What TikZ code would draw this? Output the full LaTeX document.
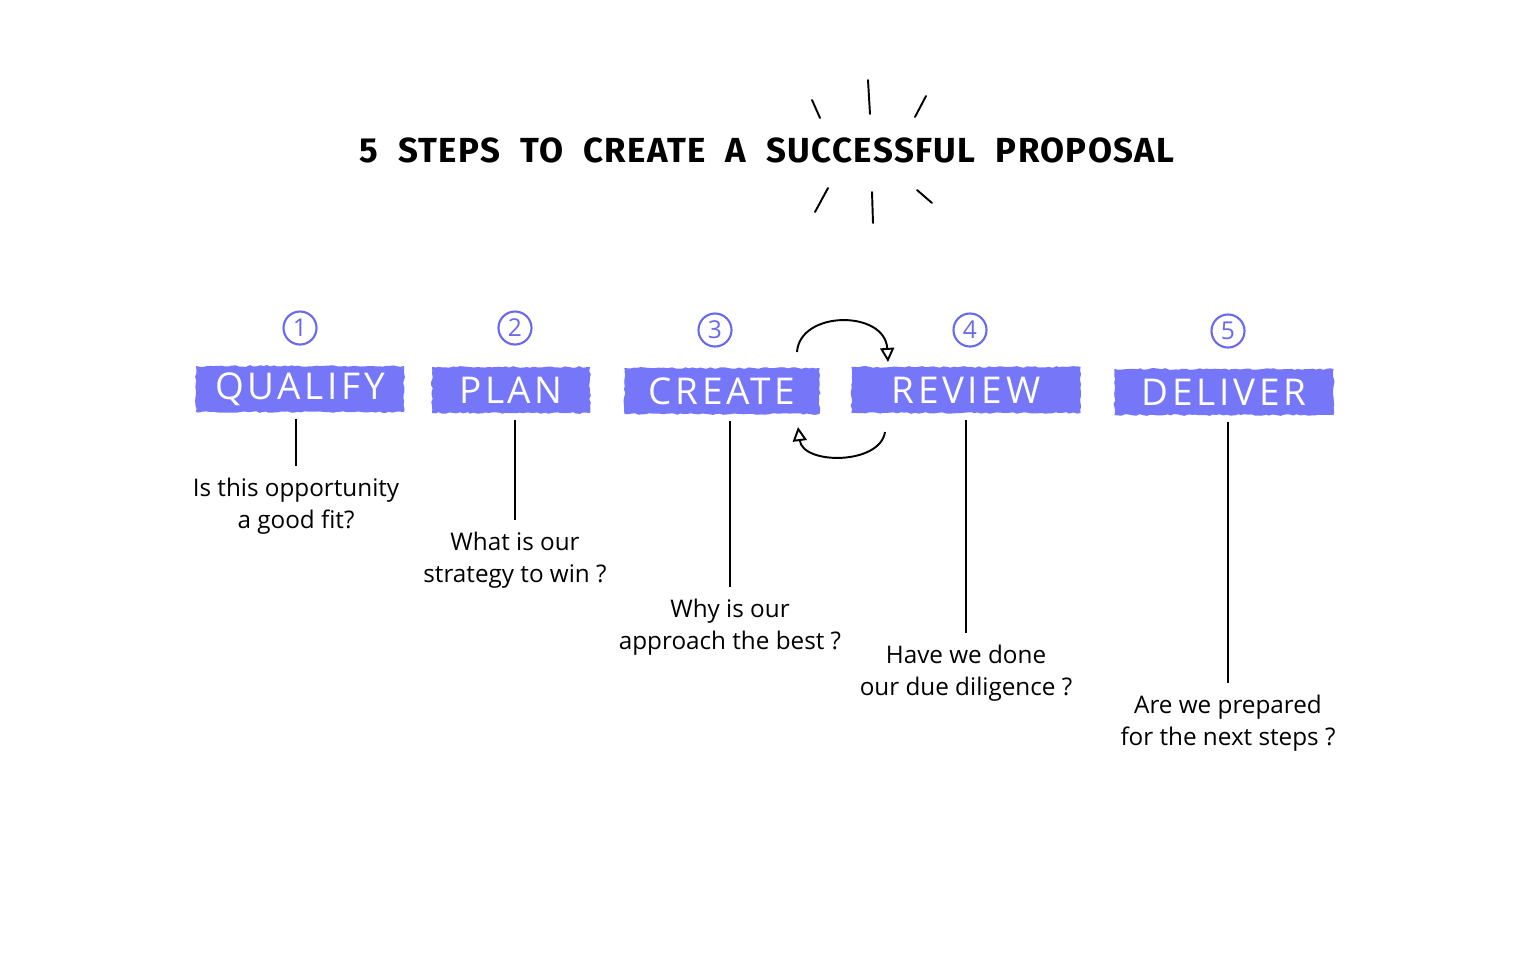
\documentclass[tikz,border=0pt]{standalone}
\usepackage{fontspec}
\setmainfont{Open Sans}
\newfontfamily\titlefont[LetterSpace=4]{Fira Sans}
\newfontfamily\bannerfont[LetterSpace=10]{Open Sans}
\newfontfamily\qfont{Open Sans}
\usetikzlibrary{arrows.meta,calc,decorations.pathmorphing}
\definecolor{bannerc}{RGB}{118,118,248}
\definecolor{numc}{RGB}{105,105,240}
\newcommand{\wgap}{\hspace{0.2cm}}
\begin{document}
\begin{tikzpicture}[x=0.01cm,y=-0.01cm,
  banner/.style={fill=bannerc, text=white, inner sep=0, minimum height=0.46cm,
    decorate, decoration={random steps, segment length=1pt, amplitude=0.25pt},
    font=\bannerfont\fontsize{10.5}{10.5}\selectfont},
  num/.style={circle, draw=numc, line width=0.6pt, text=numc, minimum size=0.33cm,
    inner sep=0, font=\qfont\fontsize{7}{7}\selectfont},
  question/.style={align=center, inner sep=0, anchor=north,
    font=\qfont\fontsize{6.9}{9.1}\selectfont},
  stem/.style={line width=0.55pt},
  ray/.style={line width=0.55pt, line cap=round},
  loop/.style={line width=0.55pt, -{Triangle[open, length=4pt, width=4pt]}}]
\useasboundingbox (0,0) rectangle (1536,960);

% title
\node[font=\titlefont\bfseries\fontsize{9.9}{9.9}\selectfont] (title) at (767,150)
  {5\wgap STEPS\wgap TO\wgap CREATE\wgap A\wgap SUCCESSFUL\wgap PROPOSAL};

% rays
\draw[ray] (812,100) -- (820,118);
\draw[ray] (868,80) -- (870,114);
\draw[ray] (926,96) -- (915,117);
\draw[ray] (828,188) -- (815,212);
\draw[ray] (872,192) -- (873,223);
\draw[ray] (917,190) -- (932,203);

% numbers
\node[num] (n1) at (300,328) {1};
\node[num] (n2) at (515,328) {2};
\node[num] (n3) at (715,330) {3};
\node[num] (n4) at (970,330) {4};
\node[num] (n5) at (1228,331) {5};

% banners
\node[banner, minimum width=2.08cm] (b1) at (300,389) {QUALIFY};
\node[banner, minimum width=1.58cm] (b2) at (511,390) {PLAN};
\node[banner, minimum width=1.95cm] (b3) at (722,391) {CREATE};
\node[banner, minimum width=2.29cm] (b4) at (966,390) {\raisebox{-0.05cm}{REVIEW}};
\node[banner, minimum width=2.19cm] (b5) at (1224,392) {\raisebox{-0.04cm}{DELIVER}};

% questions
\node[question] (q1) at (296,477) {Is this opportunity\\a good fit?};
\node[question] (q2) at (515,531) {What is our\\strategy to win ?};
\node[question] (q3) at (730,598) {Why is our\\approach the best ?};
\node[question] (q4) at (966,644) {Have we done\\our due diligence ?};
\node[question] (q5) at (1228,694) {Are we prepared\\for the next steps ?};

% stems
\foreach \i in {1,...,5}{
  \draw[stem] (b\i.south -| q\i.north) ++(0,6) -- ($(q\i.north)+(0,-11)$);
}

% loop arrows between CREATE and REVIEW
\coordinate (la) at (797,352);
\coordinate (lb) at (888,362);
\coordinate (lc) at (885,432);
\coordinate (ld) at (798,427);
\draw[loop] (la) .. controls (800,310) and (885,310) .. (lb);
\draw[loop] (lc) .. controls (880,465) and (803,465) .. (ld);
\end{tikzpicture}
\end{document}
